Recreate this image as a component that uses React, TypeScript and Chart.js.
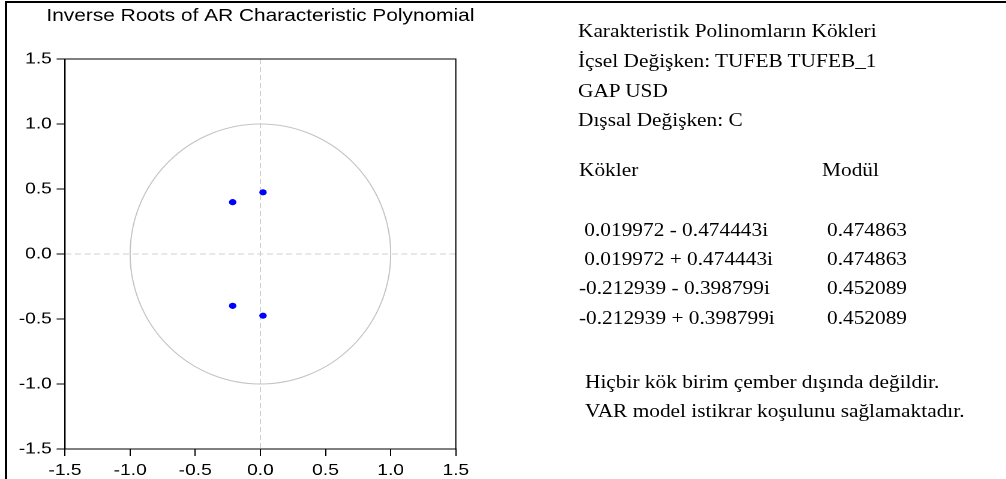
import React, { useEffect, useRef } from 'react';
import { Chart, registerables } from 'chart.js';

Chart.register(...registerables);

// The whole figure is horizontally stretched (text is wide relative to its height)
const SX = 1.2;

const titleText = 'Inverse Roots of AR Characteristic Polynomial';
const axisMin = -1.5;
const axisMax = 1.5;
const axisStep = 0.5;
const unitCircleRadius = 1;

// Roots (real, imaginary) and their modulus
const rootRe = [0.019972, 0.019972, -0.212939, -0.212939];
const rootIm = [-0.474443, 0.474443, -0.398799, 0.398799];
const rootModulus = [0.474863, 0.474863, 0.452089, 0.452089];

const headerLines = [
  'Karakteristik Polinomların Kökleri',
  'İçsel Değişken: TUFEB TUFEB_1',
  'GAP USD',
  'Dışsal Değişken: C',
];
const tableHeaders = ['Kökler', 'Modül'];
const noteLines = [
  'Hiçbir kök birim çember dışında değildir.',
  'VAR model istikrar koşulunu sağlamaktadır.',
];

const SANS = '"Liberation Sans", Arial, sans-serif';
const SERIF = '"Liberation Serif", "Times New Roman", serif';
const TITLE_SIZE = 17.4;
const SERIF_SIZE = 17.8;

const fmtRoot = (re: number, im: number) =>
  `${re < 0 ? '' : ' '}${re.toFixed(6)} ${im < 0 ? '-' : '+'} ${Math.abs(im).toFixed(6)}i`;

const unitCirclePlugin = {
  id: 'unitCircleAndFrame',
  beforeDatasetsDraw(chart: any) {
    const { ctx, scales } = chart;
    const x = scales.x;
    const y = scales.y;
    const cx = x.getPixelForValue(0);
    const cy = y.getPixelForValue(0);
    const rx = Math.abs(x.getPixelForValue(unitCircleRadius) - cx);
    const ry = Math.abs(y.getPixelForValue(unitCircleRadius) - cy);
    ctx.save();
    ctx.strokeStyle = '#c4c4c4';
    ctx.lineWidth = 1;
    ctx.beginPath();
    ctx.ellipse(cx, cy, rx, ry, 0, 0, Math.PI * 2);
    ctx.stroke();
    ctx.restore();
  },
  afterDraw(chart: any) {
    const { ctx, chartArea } = chart;
    const { left, top, right, bottom } = chartArea;
    ctx.save();
    ctx.strokeStyle = '#000';
    ctx.lineWidth = 1;
    ctx.beginPath();
    ctx.moveTo(left, top);
    ctx.lineTo(right, top);
    ctx.lineTo(right, bottom);
    ctx.lineTo(left, bottom);
    ctx.closePath();
    ctx.stroke();
    ctx.restore();
  },
};

const TICK_FONT = { family: SANS, size: 16 };
const Y_AXIS_WIDTH = 65 / SX;
const CANVAS_W = 434;
const CANVAS_H = 479;

function RootChart() {
  const ref = useRef<HTMLCanvasElement | null>(null);
  useEffect(() => {
    if (!ref.current) return;
    const points = rootRe.map((re, i) => ({ x: re, y: rootIm[i] }));
    const axisCommon = (tickLength: number, padding: number) => ({
      type: 'linear' as const,
      min: axisMin,
      max: axisMax,
      ticks: {
        stepSize: axisStep,
        color: '#000',
        font: TICK_FONT,
        padding,
        callback: (v: any) => Number(v).toFixed(1),
      },
      grid: {
        color: (c: any) => (c.tick && c.tick.value === 0 ? '#d0d0d0' : 'rgba(0,0,0,0)'),
        lineWidth: 1,
        tickColor: '#000',
        tickLength,
        tickBorderDash: [],
      },
      border: { display: true, color: '#000', width: 1, dash: [5, 3] },
    });
    const chart = new Chart(ref.current, {
      type: 'scatter',
      data: {
        datasets: [
          {
            label: 'Inverse roots',
            data: points,
            backgroundColor: '#0000ff',
            borderColor: '#0000ff',
            pointRadius: 3.1,
            pointHoverRadius: 3.1,
            borderWidth: 0,
          },
        ],
      },
      options: {
        animation: false,
        responsive: false,
        devicePixelRatio: 2,
        layout: { padding: 0 },
        plugins: {
          legend: { display: false },
          tooltip: { enabled: false },
          title: {
            display: true,
            text: titleText,
            color: '#000',
            font: { family: SANS, size: TITLE_SIZE, weight: 'normal', lineHeight: 1.2 },
            padding: { top: 6, bottom: 59 - 6 - TITLE_SIZE * 1.2 },
          },
        },
        scales: {
          x: {
            ...axisCommon(7, 5),
            position: 'bottom',
            afterFit: (s: any) => {
              s.height = 30;
            },
          },
          y: {
            ...axisCommon(7, 4),
            position: 'left',
            afterFit: (s: any) => {
              s.width = Y_AXIS_WIDTH;
            },
          },
          yRight: {
            type: 'linear',
            position: 'right',
            min: axisMin,
            max: axisMax,
            display: true,
            ticks: { display: false },
            grid: { display: false, drawTicks: false },
            border: { display: false },
            afterFit: (s: any) => {
              s.width = Y_AXIS_WIDTH;
            },
          },
        } as any,
      },
      plugins: [unitCirclePlugin],
    } as any);
    return () => chart.destroy();
  }, []);
  return (
    <div style={{ position: 'absolute', left: 0, top: 0, width: CANVAS_W, height: CANVAS_H }}>
      <canvas ref={ref} width={CANVAS_W} height={CANVAS_H} />
    </div>
  );
}

function T({ x, base, children }: { x: number; base: number; children: React.ReactNode }) {
  return (
    <div
      style={{
        position: 'absolute',
        left: x / SX,
        top: base - (10 + 0.3375 * SERIF_SIZE),
        font: `${SERIF_SIZE}px ${SERIF}`,
        lineHeight: '20px',
        whiteSpace: 'pre',
        color: '#000',
      }}
    >
      {children}
    </div>
  );
}

const headerBaselines = [37, 67, 97, 126];
const rowBaselines = [236, 265, 294, 324];
const noteBaselines = [388, 417];

export default function App() {
  return (
    <div
      style={{
        position: 'fixed',
        left: 0,
        top: 0,
        width: 1006,
        height: 479,
        overflow: 'hidden',
        background: '#fff',
      }}
    >
      <div
        style={{
          position: 'absolute',
          left: 0,
          top: 0,
          width: 1006 / SX,
          height: 479,
          transform: `scaleX(${SX})`,
          transformOrigin: '0 0',
        }}
      >
        <RootChart />
        {headerLines.map((t, i) => (
          <T key={'h' + i} x={578} base={headerBaselines[i]}>
            {t}
          </T>
        ))}
        <T x={579} base={176}>{tableHeaders[0]}</T>
        <T x={822} base={176}>{tableHeaders[1]}</T>
        {rootRe.map((re, i) => (
          <React.Fragment key={'r' + i}>
            <T x={579} base={rowBaselines[i]}>{fmtRoot(re, rootIm[i])}</T>
            <T x={827} base={rowBaselines[i]}>{rootModulus[i].toFixed(6)}</T>
          </React.Fragment>
        ))}
        {noteLines.map((t, i) => (
          <T key={'n' + i} x={585} base={noteBaselines[i]}>
            {t}
          </T>
        ))}
      </div>
      <div
        style={{
          position: 'absolute',
          left: 4.5,
          top: 1,
          width: 1100,
          height: 600,
          borderTop: '2.5px solid #000',
          borderLeft: '2px solid #000',
          pointerEvents: 'none',
        }}
      />
    </div>
  );
}
